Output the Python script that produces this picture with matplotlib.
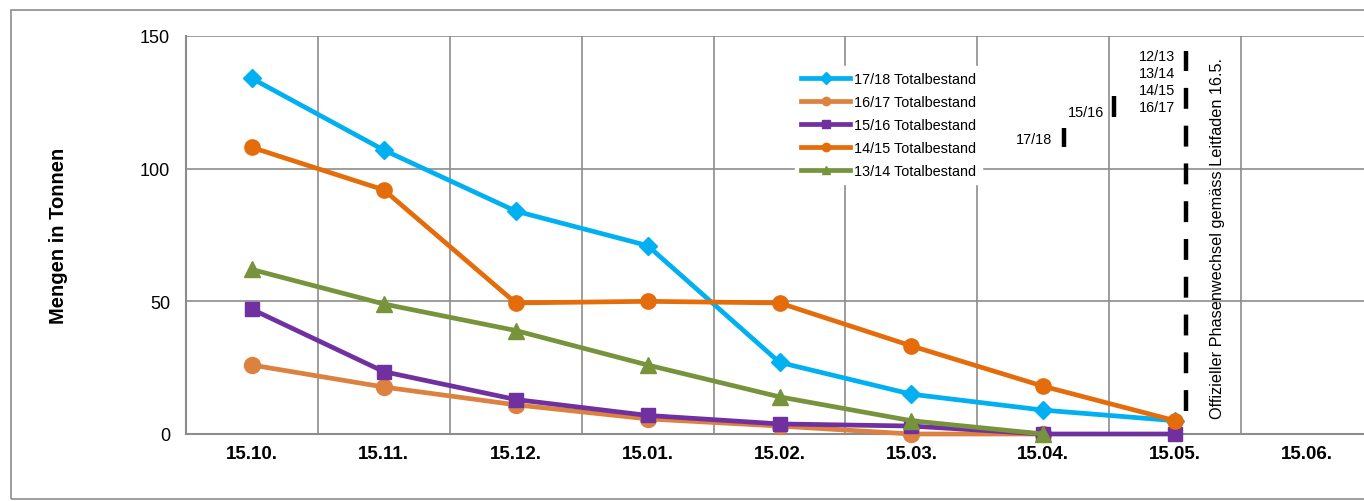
import matplotlib.pyplot as plt
from matplotlib.lines import Line2D
from matplotlib.patches import Rectangle

categories = ["15.10.", "15.11.", "15.12.", "15.01.", "15.02.", "15.03.", "15.04.", "15.05.", "15.06."]

s1718 = [134, 107, 84, 71, 27, 15, 9, 5]
s1617 = [26, 17.7, 11, 5.7, 3, 0, 0]
s1516 = [47, 23.5, 13, 7, 3.8, 3, 0, 0]
s1415 = [108, 92, 49.4, 50, 49.4, 33.2, 18, 5]
s1314 = [62, 49, 39, 26, 14, 5, 0]

# draw order = legend order (later series on top)
series = [
    ("17/18 Totalbestand", s1718, "#00B0F0", "D", 9),
    ("16/17 Totalbestand", s1617, "#DD8140", "o", 11.5),
    ("15/16 Totalbestand", s1516, "#7030A0", "s", 10.5),
    ("14/15 Totalbestand", s1415, "#E46C0A", "o", 11),
    ("13/14 Totalbestand", s1314, "#77933C", "^", 11.5),
]

fig = plt.figure(figsize=(13.64, 5.02), dpi=100)
fig.patches.append(Rectangle((11 / 1364, 1 - 500 / 502), 1.2, 489 / 502, transform=fig.transFigure,
                             fill=False, edgecolor="#8c8c8c", lw=1.2))
ax = fig.add_axes([186 / 1364, 1 - 435 / 502, 1187 / 1364, 398 / 502])

handles = []
labels = []
for i, (label, vals, color, marker, ms) in enumerate(series):
    x = list(range(len(vals)))
    ax.plot(x, vals, color=color, lw=3.4, marker=marker, ms=ms, zorder=3 + i * 0.1, clip_on=False)
    handles.append(Line2D([], [], color=color, lw=3.4, marker=marker, ms=6))
    labels.append(label)

ax.set_xlim(-0.5, 8.5)
ax.set_ylim(0, 150)
ax.set_yticks([0, 50, 100, 150])
ax.set_xticks(range(len(categories)))
ax.set_xticklabels(categories, fontweight="bold", fontsize=13.5, family="Liberation Sans")
ax.set_xticks([i + 0.5 for i in range(len(categories))], minor=True)
for lbl in ax.get_yticklabels():
    lbl.set_fontsize(13)
    lbl.set_family("Liberation Sans")
ax.tick_params(axis="both", which="both", length=0)
ax.tick_params(axis="x", pad=8)
ax.tick_params(axis="y", pad=11.5)
ax.grid(axis="y", which="major", color="#8c8c8c", lw=1.2)
ax.grid(axis="x", which="minor", color="#8c8c8c", lw=1.2)
ax.set_axisbelow(True)
for side in ["top", "right"]:
    ax.spines[side].set_visible(False)
for side in ["left", "bottom"]:
    ax.spines[side].set_color("#8c8c8c")
    ax.spines[side].set_linewidth(1.5)
ax.set_ylabel("Mengen in Tonnen", fontweight="bold", fontsize=14.5, family="Liberation Sans", labelpad=52)

# official phase change line
ax.axvline(7.08, ymin=0.058, ymax=0.962, color="black", lw=3.2, dashes=(4.7, 3.8), zorder=4)
ax.text(7.32, 74, "Offizieller Phasenwechsel gemäss Leitfaden 16.5.", rotation=90,
        ha="center", va="center", fontsize=11.7, family="Liberation Sans")

# markers for each season's phase change
ax.plot([6.16, 6.16], [108, 115.5], color="black", lw=3.2, solid_capstyle="butt")
ax.plot([6.54, 6.54], [119.5, 127.5], color="black", lw=3.2, solid_capstyle="butt")
ax.text(6.07, 111, "17/18", ha="right", va="center", fontsize=10.4, family="Liberation Sans")
ax.text(6.46, 121.5, "15/16", ha="right", va="center", fontsize=10.4, family="Liberation Sans")
for txt, yv in [("12/13", 142.5), ("13/14", 136.2), ("14/15", 129.7), ("16/17", 123.3)]:
    ax.text(7.0, yv, txt, ha="right", va="center", fontsize=10.4, family="Liberation Sans")

leg = ax.legend(handles, labels, loc="upper left",
                bbox_to_anchor=((788 - 186) / 1187, (435 - 60) / 398), frameon=True,
                fancybox=False, edgecolor="white", framealpha=1, handlelength=3.4,
                handletextpad=0.3, labelspacing=0.62, prop={"family": "Liberation Sans", "size": 10.4})
leg.set_zorder(5)

fig.savefig("out.png", dpi=100)
